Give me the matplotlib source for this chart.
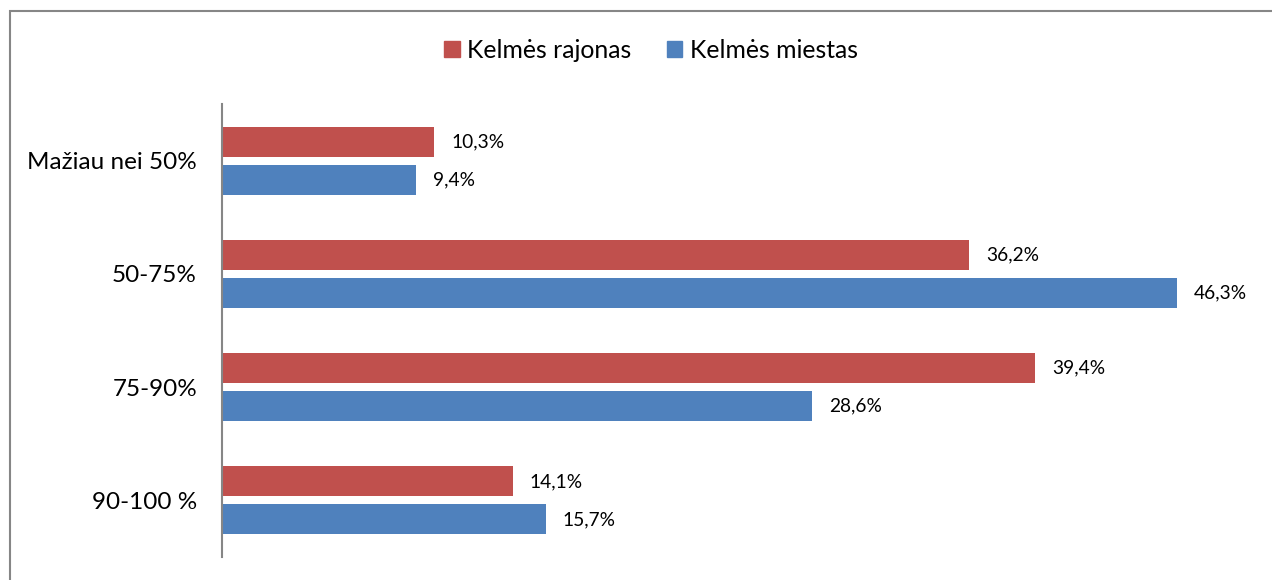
import matplotlib
matplotlib.use("Agg")
import matplotlib.pyplot as plt
from matplotlib.patches import Rectangle, Patch
import numpy as np

categories = ["Mažiau nei 50%", "50-75%", "75-90%", "90-100 %"]
series_names = ["Kelmės rajonas", "Kelmės miestas"]
rajonas = [10.3, 36.2, 39.4, 14.1]
miestas = [9.4, 46.3, 28.6, 15.7]

RED = "#C0504D"
BLUE = "#4F81BD"
FONT = ["Lato", "DejaVu Sans"]
plt.rcParams['font.family'] = FONT

W, H = 1272, 580
fig = plt.figure(figsize=(W / 100, H / 100), dpi=100)

# outer chart border
fig.patches.append(Rectangle((10 / W, -0.1), 1.2, 1 - 11 / H + 0.1,
                             transform=fig.transFigure, fill=False,
                             edgecolor="#868686", linewidth=1.5))

ax = fig.add_axes([222 / W, 23 / H, 1038 / W, 453 / H])
y = np.arange(len(categories))
off = 19 / 113.25
h = 30 / 113.25
ax.barh(y - off, rajonas, height=h, color=RED)
ax.barh(y + off, miestas, height=h, color=BLUE)

ax.set_xlim(0, 1038 / 20.63)
ax.set_ylim(len(categories) - 0.5, -0.5)

for yi, v in zip(y - off, rajonas):
    ax.annotate(f"{v:.1f}%".replace(".", ","), (v, yi), xytext=(17, 0),
                textcoords="offset pixels", va="center", ha="left",
                fontsize=13.8, color="#000000")
for yi, v in zip(y + off, miestas):
    ax.annotate(f"{v:.1f}%".replace(".", ","), (v, yi), xytext=(17, 0),
                textcoords="offset pixels", va="center", ha="left",
                fontsize=13.8, color="#000000")

ax.set_yticks(y)
ax.set_yticklabels(categories, fontsize=17.5)
ax.tick_params(axis="y", length=0, pad=18)
ax.set_xticks([])
for s in ["top", "right", "bottom"]:
    ax.spines[s].set_visible(False)
ax.spines["left"].set_color("#868686")
ax.spines["left"].set_linewidth(1.5)

handles = [Patch(color=RED), Patch(color=BLUE)]
fig.legend(handles, series_names, loc="center", bbox_to_anchor=(651 / W, 1 - 50 / H),
           ncol=2, frameon=False, fontsize=17.8, handlelength=0.62, handleheight=0.62,
           handletextpad=0.3, columnspacing=1.44)

fig.savefig("out.png", dpi=100, facecolor="white")
